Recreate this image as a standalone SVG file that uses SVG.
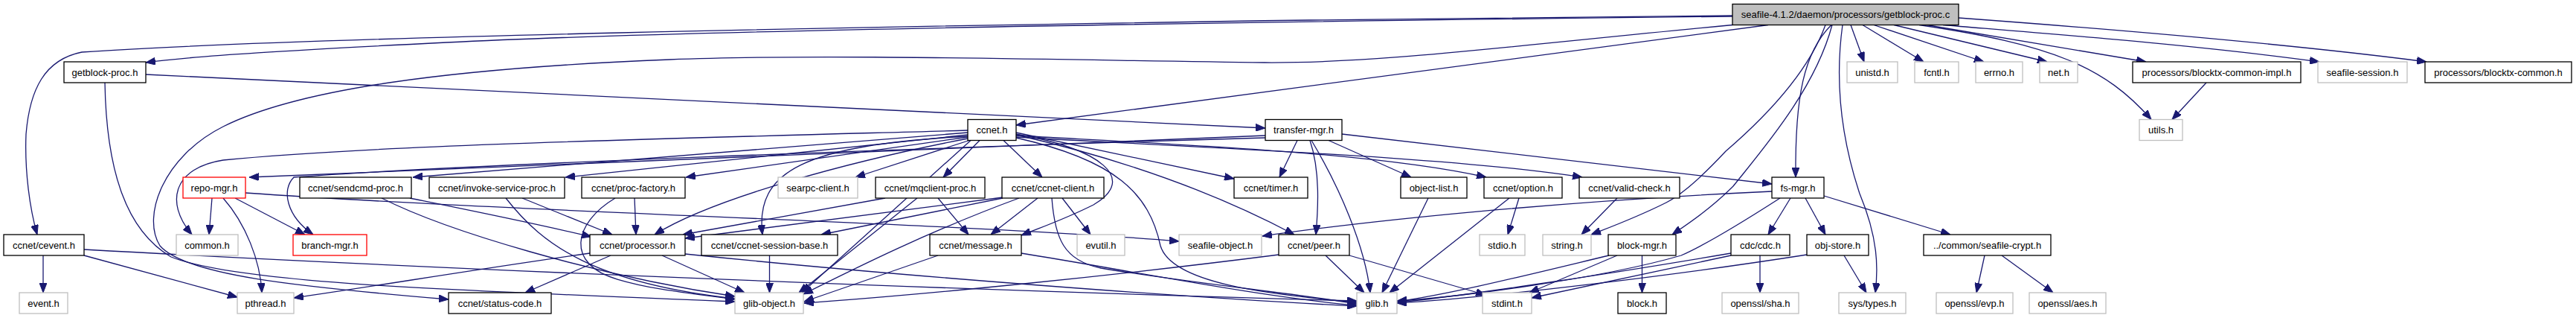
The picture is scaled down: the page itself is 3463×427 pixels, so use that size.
<svg xmlns="http://www.w3.org/2000/svg" width="3463" height="427" viewBox="0 0 3463 427">
<style>
rect{stroke-width:1.3}
.n{fill:#fff;stroke:#000}
.g{fill:#fff;stroke:#bfbfbf}
.r{fill:#fff;stroke:#ff0000}
.m{fill:#bfbfbf;stroke:#000}
text{font-family:"Liberation Sans",Arial,sans-serif;font-size:13px;fill:#000;text-anchor:middle}
.e path{fill:none;stroke:#191970;stroke-width:1.3;marker-end:url(#a)}
</style>
<defs>
<marker id="a" markerUnits="userSpaceOnUse" markerWidth="13" markerHeight="10" refX="13" refY="5" orient="auto"><path d="M0,0 L13,5 L0,10 Z" fill="#191970" stroke="#191970" stroke-width="1"/></marker>
</defs>
<rect width="3463" height="427" fill="#fff"/>
<g id="connectors" class="e">
<path d="M2329,21 L1760,27 C1200,35 400,50 110,70 C60,80 40,120 35,180 C33,230 40,280 50,315"/>
<path d="M2329,22 C1600,30 900,42 600,57 C400,67 260,75 196,84"/>
<path d="M2377,33.5 L1366,168"/>
<path d="M2329,33.5 C2000,65 1850,85 1700,84 C1400,80 1100,72 900,80 C600,92 400,120 300,170 C220,210 190,290 215,330 C250,370 400,385 603,402"/>
<path d="M2454,33.5 C2430,100 2370,160 2320,203 C2290,235 2260,262 2240,272 C2200,292 2170,303 2139,315"/>
<path d="M2463,33.5 C2440,120 2370,200 2330,250 C2300,280 2270,300 2248,315"/>
<path d="M2462,33.5 C2425,70 2413,130 2414,238"/>
<path d="M2477,33.5 C2465,120 2480,200 2500,260 C2525,320 2525,360 2521,393"/>
<path d="M2488,33.5 L2506,83"/>
<path d="M2504,33.5 L2586,83"/>
<path d="M2519,33.5 L2667,83"/>
<path d="M2546,33.5 L2752,83"/>
<path d="M2580,33.5 C2760,60 2830,90 2892,160.5"/>
<path d="M2590,33.5 L2885,83"/>
<path d="M2612,33.5 C2750,45 2950,60 3118,83"/>
<path d="M2633,24 C2850,40 3100,62 3262,83"/>
<path d="M196,100 L1701,172"/>
<path d="M141,111 C143,230 170,310 230,345 C330,385 700,392 988,405"/>
<path d="M58,343 L58,393"/>
<path d="M113,343 L319,399"/>
<path d="M113,335 C600,362 1300,390 1824,404"/>
<path d="M1301,175 C900,186 500,195 300,215 C235,225 220,270 258,315"/>
<path d="M1301,178 L555,238"/>
<path d="M1301,181 L760,238"/>
<path d="M1301,184 L922,238"/>
<path d="M1303,188.5 L1150,238"/>
<path d="M1301,186 C1150,215 960,265 880,315"/>
<path d="M1301,183 C1080,195 1015,230 1025,315"/>
<path d="M1317,188.5 L1268,238"/>
<path d="M1349,188.5 L1401,238"/>
<path d="M1366,180 C1480,200 1530,240 1470,275 C1430,295 1400,305 1373,316"/>
<path d="M1366,178 L1659,240"/>
<path d="M1366,181 Q1580,230 1740,315"/>
<path d="M1366,182 C1600,195 1850,205 1998,238"/>
<path d="M1366,184 C1600,198 1950,210 2127,238"/>
<path d="M1366,185 C1500,215 1545,260 1560,330 C1575,380 1700,395 1824,406"/>
<path d="M1305,188.5 L1078,393"/>
<path d="M1701,182 L335,238"/>
<path d="M1701,185 C1200,200 600,222 395,238 C378,255 385,290 421,315"/>
<path d="M1744,188.5 L1720,238"/>
<path d="M1786,188.5 L1897,238"/>
<path d="M1761,188.5 C1775,230 1772,280 1769,315"/>
<path d="M1763,188.5 C1800,250 1835,330 1842,393"/>
<path d="M1804,180 L2382,247"/>
<path d="M285,266 L281,315"/>
<path d="M300,266 C330,300 350,350 352,393"/>
<path d="M316,266 L410,315"/>
<path d="M330,259 C700,285 1300,300 1585,324"/>
<path d="M551,266 C620,280 720,300 795,318"/>
<path d="M513,266 C600,310 800,370 988,398"/>
<path d="M702,266 L823,315"/>
<path d="M680,266 C730,330 800,380 988,401"/>
<path d="M853,266 L855,315"/>
<path d="M827,266 C770,300 760,355 830,375 C880,390 940,395 988,402"/>
<path d="M1190,266 L918,315"/>
<path d="M1233,266 L1074,393"/>
<path d="M1261,266 L1302,315"/>
<path d="M1348,265 L921,320"/>
<path d="M1348,266 L1104,315"/>
<path d="M1395,266 L1332,315"/>
<path d="M1428,266 L1466,315"/>
<path d="M1370,266 C1250,310 1150,360 1080,395"/>
<path d="M1414,266 C1418,320 1430,350 1480,360 C1600,380 1750,395 1824,408"/>
<path d="M1261,343 L1081,405"/>
<path d="M1373,340 C1500,360 1700,400 1824,410"/>
<path d="M821,343 L706,393"/>
<path d="M890,343 L1001,393"/>
<path d="M793,340 C650,360 500,385 395,400"/>
<path d="M921,341 C1200,370 1600,400 1824,411"/>
<path d="M1034.5,343 L1034.5,393"/>
<path d="M1782,343 L1834,393"/>
<path d="M1814,343 L1997,396"/>
<path d="M1719,342 C1500,370 1250,395 1081,407"/>
<path d="M1920,266 L1858,393"/>
<path d="M2029,266 L1868,393"/>
<path d="M2042,266 L2027,315"/>
<path d="M2174,266 L2126,315"/>
<path d="M2382,257 C2100,270 1850,295 1697,317"/>
<path d="M2407,266 L2377,315"/>
<path d="M2427,266 L2454,315"/>
<path d="M2452,263 L2622,315"/>
<path d="M2393,266 C2340,300 2290,330 2260,343 C2150,375 1950,400 1878,404"/>
<path d="M2163,343 C2050,370 1950,395 1878,405"/>
<path d="M2174,343 L2056,393"/>
<path d="M2207.5,343 L2207.5,393"/>
<path d="M2327,340 C2150,370 1950,400 1878,406"/>
<path d="M2327,343 L2059,400"/>
<path d="M2366,343 L2366,393"/>
<path d="M2429,342 C2250,370 2000,400 1878,407"/>
<path d="M2479,343 L2509,393"/>
<path d="M2668,343 L2657,393"/>
<path d="M2691,343 L2760,393"/>
<path d="M2966,111 L2920,160.5"/>
</g>
<g id="n_main"><rect class="m" x="2329" y="5.5" width="304" height="28"/><text x="2481" y="24">seafile-4.1.2/daemon/processors/getblock-proc.c</text></g>
<g id="n_getblock_proc_h"><rect class="n" x="86" y="83" width="110" height="28"/><text x="141" y="101.5">getblock-proc.h</text></g>
<g id="n_unistd"><rect class="g" x="2483" y="83" width="68" height="28"/><text x="2517" y="101.5">unistd.h</text></g>
<g id="n_fcntl"><rect class="g" x="2574" y="83" width="59" height="28"/><text x="2603.5" y="101.5">fcntl.h</text></g>
<g id="n_errno"><rect class="g" x="2656" y="83" width="63" height="28"/><text x="2687.5" y="101.5">errno.h</text></g>
<g id="n_net"><rect class="g" x="2742" y="83" width="51" height="28"/><text x="2767.5" y="101.5">net.h</text></g>
<g id="n_blocktx_impl"><rect class="n" x="2867" y="83" width="226" height="28"/><text x="2980" y="101.5">processors/blocktx-common-impl.h</text></g>
<g id="n_seafile_session"><rect class="g" x="3116" y="83" width="120" height="28"/><text x="3176" y="101.5">seafile-session.h</text></g>
<g id="n_blocktx_common"><rect class="n" x="3260" y="83" width="197" height="28"/><text x="3358.5" y="101.5">processors/blocktx-common.h</text></g>
<g id="n_ccnet"><rect class="n" x="1301" y="160.5" width="65" height="28"/><text x="1333.5" y="179">ccnet.h</text></g>
<g id="n_transfer_mgr"><rect class="n" x="1701" y="160.5" width="103" height="28"/><text x="1752.5" y="179">transfer-mgr.h</text></g>
<g id="n_utils"><rect class="g" x="2876" y="160.5" width="58" height="28"/><text x="2905" y="179">utils.h</text></g>
<g id="n_repo_mgr"><rect class="r" x="246" y="238" width="84" height="28"/><text x="288" y="256.5">repo-mgr.h</text></g>
<g id="n_sendcmd"><rect class="n" x="403" y="238" width="150" height="28"/><text x="478" y="256.5">ccnet/sendcmd-proc.h</text></g>
<g id="n_invoke"><rect class="n" x="577" y="238" width="182" height="28"/><text x="668" y="256.5">ccnet/invoke-service-proc.h</text></g>
<g id="n_proc_factory"><rect class="n" x="782" y="238" width="139" height="28"/><text x="851.5" y="256.5">ccnet/proc-factory.h</text></g>
<g id="n_searpc"><rect class="g" x="1046" y="238" width="107" height="28"/><text x="1099.5" y="256.5">searpc-client.h</text></g>
<g id="n_mqclient"><rect class="n" x="1177" y="238" width="147" height="28"/><text x="1250.5" y="256.5">ccnet/mqclient-proc.h</text></g>
<g id="n_ccnet_client"><rect class="n" x="1347" y="238" width="137" height="28"/><text x="1415.5" y="256.5">ccnet/ccnet-client.h</text></g>
<g id="n_timer"><rect class="n" x="1659" y="238" width="99" height="28"/><text x="1708.5" y="256.5">ccnet/timer.h</text></g>
<g id="n_object_list"><rect class="n" x="1883" y="238" width="89" height="28"/><text x="1927.5" y="256.5">object-list.h</text></g>
<g id="n_option"><rect class="n" x="1995" y="238" width="105" height="28"/><text x="2047.5" y="256.5">ccnet/option.h</text></g>
<g id="n_valid_check"><rect class="n" x="2123" y="238" width="135" height="28"/><text x="2190.5" y="256.5">ccnet/valid-check.h</text></g>
<g id="n_fs_mgr"><rect class="n" x="2382" y="238" width="70" height="28"/><text x="2417" y="256.5">fs-mgr.h</text></g>
<g id="n_cevent"><rect class="n" x="5" y="315" width="108" height="28"/><text x="59" y="333.5">ccnet/cevent.h</text></g>
<g id="n_common"><rect class="g" x="237" y="315" width="83" height="28"/><text x="278.5" y="333.5">common.h</text></g>
<g id="n_branch_mgr"><rect class="r" x="394" y="315" width="99" height="28"/><text x="443.5" y="333.5">branch-mgr.h</text></g>
<g id="n_processor"><rect class="n" x="793" y="315" width="128" height="28"/><text x="857" y="333.5">ccnet/processor.h</text></g>
<g id="n_session_base"><rect class="n" x="943" y="315" width="183" height="28"/><text x="1034.5" y="333.5">ccnet/ccnet-session-base.h</text></g>
<g id="n_message"><rect class="n" x="1250" y="315" width="123" height="28"/><text x="1311.5" y="333.5">ccnet/message.h</text></g>
<g id="n_evutil"><rect class="g" x="1448" y="315" width="64" height="28"/><text x="1480" y="333.5">evutil.h</text></g>
<g id="n_seafile_object"><rect class="g" x="1585" y="315" width="111" height="28"/><text x="1640.5" y="333.5">seafile-object.h</text></g>
<g id="n_peer"><rect class="n" x="1719" y="315" width="95" height="28"/><text x="1766.5" y="333.5">ccnet/peer.h</text></g>
<g id="n_stdio"><rect class="g" x="1989" y="315" width="61" height="28"/><text x="2019.5" y="333.5">stdio.h</text></g>
<g id="n_string"><rect class="g" x="2074" y="315" width="65" height="28"/><text x="2106.5" y="333.5">string.h</text></g>
<g id="n_block_mgr"><rect class="n" x="2162" y="315" width="91" height="28"/><text x="2207.5" y="333.5">block-mgr.h</text></g>
<g id="n_cdc"><rect class="n" x="2327" y="315" width="79" height="28"/><text x="2366.5" y="333.5">cdc/cdc.h</text></g>
<g id="n_obj_store"><rect class="n" x="2429" y="315" width="83" height="28"/><text x="2470.5" y="333.5">obj-store.h</text></g>
<g id="n_seafile_crypt"><rect class="n" x="2586" y="315" width="171" height="28"/><text x="2671.5" y="333.5">../common/seafile-crypt.h</text></g>
<g id="n_event"><rect class="g" x="26" y="393" width="65" height="28"/><text x="58.5" y="411.5">event.h</text></g>
<g id="n_pthread"><rect class="g" x="319" y="393" width="76" height="28"/><text x="357" y="411.5">pthread.h</text></g>
<g id="n_status_code"><rect class="n" x="603" y="393" width="138" height="28"/><text x="672" y="411.5">ccnet/status-code.h</text></g>
<g id="n_glib_object"><rect class="g" x="988" y="393" width="92" height="28"/><text x="1034" y="411.5">glib-object.h</text></g>
<g id="n_glib"><rect class="g" x="1824" y="393" width="54" height="28"/><text x="1851" y="411.5">glib.h</text></g>
<g id="n_stdint"><rect class="g" x="1993" y="393" width="66" height="28"/><text x="2026" y="411.5">stdint.h</text></g>
<g id="n_block"><rect class="n" x="2175" y="393" width="65" height="28"/><text x="2207.5" y="411.5">block.h</text></g>
<g id="n_sha"><rect class="g" x="2315" y="393" width="103" height="28"/><text x="2366.5" y="411.5">openssl/sha.h</text></g>
<g id="n_sys_types"><rect class="g" x="2472" y="393" width="90" height="28"/><text x="2517" y="411.5">sys/types.h</text></g>
<g id="n_evp"><rect class="g" x="2603" y="393" width="103" height="28"/><text x="2654.5" y="411.5">openssl/evp.h</text></g>
<g id="n_aes"><rect class="g" x="2728" y="393" width="103" height="28"/><text x="2779.5" y="411.5">openssl/aes.h</text></g>
</svg>
